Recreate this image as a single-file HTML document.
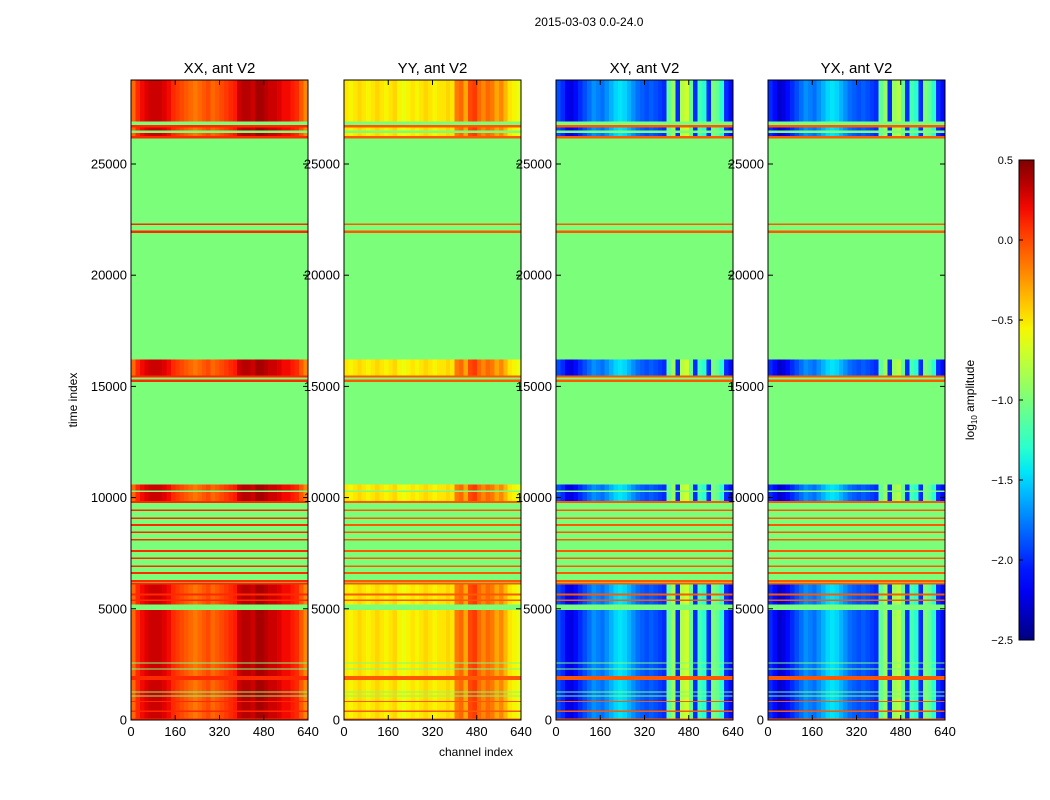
<!DOCTYPE html>
<html><head><meta charset="utf-8"><style>
html,body{margin:0;padding:0;background:#fff;}
svg{display:block;font-family:"Liberation Sans",sans-serif;}
</style></head><body>
<svg id="fig" width="1050" height="800" viewBox="0 0 1050 800">
<rect width="1050" height="800" fill="#fff"/>
<text x="589" y="26" font-size="12" text-anchor="middle">2015-03-03 0.0-24.0</text>
<text x="476" y="756" font-size="12" text-anchor="middle">channel index</text>
<text transform="translate(77,400) rotate(-90)" font-size="12" text-anchor="middle">time index</text>
<g id="panels"></g>
<g id="cbar"></g>
</svg>
<script>
const panelTitles = ["XX, ant V2","YY, ant V2","XY, ant V2","YX, ant V2"];
const xTicks = [0,160,320,480,640];
const yTicks = [0,5000,10000,15000,20000,25000];
const cbTicks = [0.5,0.0,-0.5,-1.0,-1.5,-2.0,-2.5];
const flagVal = -1.0;
const redVal = [0.1,-0.05,-0.05,-0.05];
// channel profiles, 40 segments of 16 channels (log10 amplitude)
const profXX = [-0.1,0.1,0.2,0.25,0.3,0.3,0.3,0.25,0.2,0.1,0.05,0.0,-0.05,-0.1,-0.15,-0.1,-0.05,0.0,-0.1,-0.05,0.0,0.05,0.1,0.15,0.3,0.35,0.35,0.3,0.4,0.4,0.35,0.3,0.3,0.25,0.2,0.2,0.15,0.1,-0.05,-0.2];
const profYY = [-0.5,-0.55,-0.5,-0.45,-0.5,-0.55,-0.5,-0.45,-0.5,-0.55,-0.5,-0.45,-0.55,-0.6,-0.55,-0.5,-0.55,-0.5,-0.45,-0.5,-0.55,-0.5,-0.5,-0.45,-0.5,-0.15,-0.1,-0.3,0.0,0.05,-0.1,-0.2,-0.1,-0.15,-0.3,-0.2,-0.35,-0.5,-0.55,-0.6];
const profXY = [-1.9,-2.0,-2.2,-2.25,-2.1,-2.0,-1.9,-1.8,-1.7,-1.75,-1.8,-1.7,-1.6,-1.5,-1.45,-1.5,-1.6,-1.7,-1.8,-1.85,-1.9,-1.85,-1.9,-1.95,-2.0,-1.1,-0.9,-2.0,-0.8,-0.7,-1.1,-2.0,-1.2,-1.3,-2.0,-1.0,-1.1,-1.3,-2.0,-2.1];
const profYX = [-2.0,-2.1,-2.3,-2.25,-2.1,-2.0,-1.9,-1.8,-1.7,-1.75,-1.8,-1.7,-1.6,-1.5,-1.45,-1.5,-1.6,-1.7,-1.8,-1.85,-1.9,-1.85,-1.9,-1.95,-2.0,-1.1,-0.9,-2.0,-0.9,-0.8,-1.1,-2.0,-1.2,-1.3,-2.0,-1.0,-1.1,-1.3,-2.0,-2.1];
const profiles = [profXX,profYY,profXY,profYX];
// time bands: start, end, kind (d=data, f=flagged, r=red line)
const bandStart = [0,60,360,420,800,860,1060,1110,1240,1290,1800,1980,2270,2320,2540,2590,4950,5200,5350,5420,5600,5680,6100,6180,9800,10250,10320,10600,15200,15300,15400,15500,16200,21900,22000,22250,22320,26150,26250,26400,26500,26650,26750,26900];
const bandEnd   = [60,360,420,800,860,1060,1110,1240,1290,1800,1980,2270,2320,2540,2590,4950,5200,5350,5420,5600,5680,6100,6180,9800,10250,10320,10600,15200,15300,15400,15500,16200,21900,22000,22250,22320,26150,26250,26400,26500,26650,26750,26900,28800];
const bandKind  = ["r","d","r","d","r","d","f","d","f","d","r","d","f","d","f","d","f","d","r","d","r","d","r","f","d","f","d","f","r","f","r","d","f","r","f","r","f","r","d","f","d","r","f","d"];
// red flag lines inside the 6180-9800 flagged block
const redLines = [6250,6610,6920,7280,7600,8100,8450,8770,9080,9440,9800];

const NS="http://www.w3.org/2000/svg";
function mk(tag,attrs,parent){const e=document.createElementNS(NS,tag);for(const k in attrs)e.setAttribute(k,attrs[k]);if(parent)parent.appendChild(e);return e;}
function interp(pts,t){for(let i=1;i<pts.length;i++){if(t<=pts[i][0]){const a=pts[i-1],b=pts[i];return a[1]+(b[1]-a[1])*(t-a[0])/(b[0]-a[0]);}}return pts[pts.length-1][1];}
const R=[[0,0],[0.35,0],[0.66,1],[0.89,1],[1,0.5]];
const G=[[0,0],[0.125,0],[0.375,1],[0.64,1],[0.91,0],[1,0]];
const B=[[0,0.5],[0.11,1],[0.34,1],[0.65,0],[1,0]];
function jet(v){let t=(v+2.5)/3;t=Math.max(0,Math.min(1,t));const c=[R,G,B].map(p=>Math.round(255*interp(p,t)));return `rgb(${c[0]},${c[1]},${c[2]})`;}

const panelX=[131,344,556,768], pw=177, py0=80, py1=720, tMax=28777;
const yS=t=>py1-(py1-py0)*t/tMax;
const panelsG=document.getElementById('panels');
panelX.forEach((px,p)=>{
  const xS=c=>px+pw*c/640;
  const g=mk('g',{},panelsG);
  
  
  const hm=mk('g',{'shape-rendering':'crispEdges'},g);
  
  
  const prof=profiles[p];
  for(let b=0;b<bandStart.length;b++){
    const y0=yS(bandEnd[b]), y1=yS(bandStart[b]);
    if(bandKind[b]==='f'){
      const r=mk('rect',{x:px,y:y0,width:pw,height:y1-y0,fill:jet(flagVal)},hm);
      
      
    } else if(bandKind[b]==='r'){
      const r=mk('rect',{x:px,y:y0,width:pw,height:y1-y0,fill:jet(redVal[p])},hm);
      
      
    } else {
      for(let c=0;c<prof.length;c++){
        const x0=xS(c*16), x1=xS((c+1)*16);
        const r=mk('rect',{x:x0,y:y0,width:x1-x0+0.3,height:y1-y0,fill:jet(prof[c])},hm);
        
        
      }
    }
  }
  redLines.forEach(t=>{
    const r=mk('rect',{x:px,y:yS(t)-0.8,width:pw,height:1.6,fill:jet(redVal[p])},hm);
    
    
  });
  const fr=mk('rect',{x:px,y:py0,width:pw,height:py1-py0,fill:'none',stroke:'#000','stroke-width':1},g);
  
  
  const tt=mk('text',{x:px+pw/2,y:73,'font-size':15,'text-anchor':'middle'},g);
  tt.textContent=panelTitles[p];
  
  
  xTicks.forEach(v=>{
    const x=xS(v);
    mk('line',{x1:x,x2:x,y1:py1,y2:py1-5,stroke:'#000'},g);
    mk('line',{x1:x,x2:x,y1:py0,y2:py0+5,stroke:'#000'},g);
    const l=mk('text',{x:x,y:py1+16,'font-size':13,'text-anchor':'middle'},g);
    l.textContent=v;
    
    
  });
  yTicks.forEach(v=>{
    const y=yS(v);
    mk('line',{x1:px,x2:px+5,y1:y,y2:y,stroke:'#000'},g);
    mk('line',{x1:px+pw,x2:px+pw-5,y1:y,y2:y,stroke:'#000'},g);
    const l=mk('text',{x:px-4,y:y+4.5,'font-size':13,'text-anchor':'end'},g);
    l.textContent=v;
    
    
  });
});
// colorbar
const cb=document.getElementById('cbar');


const cx=1019,cw=15,cy0=160,cy1=640;
const defs=mk('defs',{},cb);
const lg=mk('linearGradient',{id:'jetg',x1:0,y1:1,x2:0,y2:0},defs);
for(let i=0;i<=20;i++){mk('stop',{offset:i/20,'stop-color':jet(-2.5+3*i/20)},lg);}
mk('rect',{x:cx,y:cy0,width:cw,height:cy1-cy0,fill:'url(#jetg)',stroke:'#000'},cb);
const cS=v=>cy1-(cy1-cy0)*(v+2.5)/3;
cbTicks.forEach(v=>{
  const y=cS(v);
  mk('line',{x1:cx,x2:cx+4,y1:y,y2:y,stroke:'#000'},cb);
  const l=mk('text',{x:cx-6,y:y+4,'font-size':11,'text-anchor':'end'},cb);
  l.textContent=v.toFixed(1).replace('-','\u2212');
  
  
});
const cl=mk('text',{transform:'translate(974,400) rotate(-90)','font-size':12,'text-anchor':'middle'},cb);
cl.innerHTML='log<tspan font-size="8" dy="3">10</tspan><tspan dy="-3"> amplitude</tspan>';


</script>
</body></html>
